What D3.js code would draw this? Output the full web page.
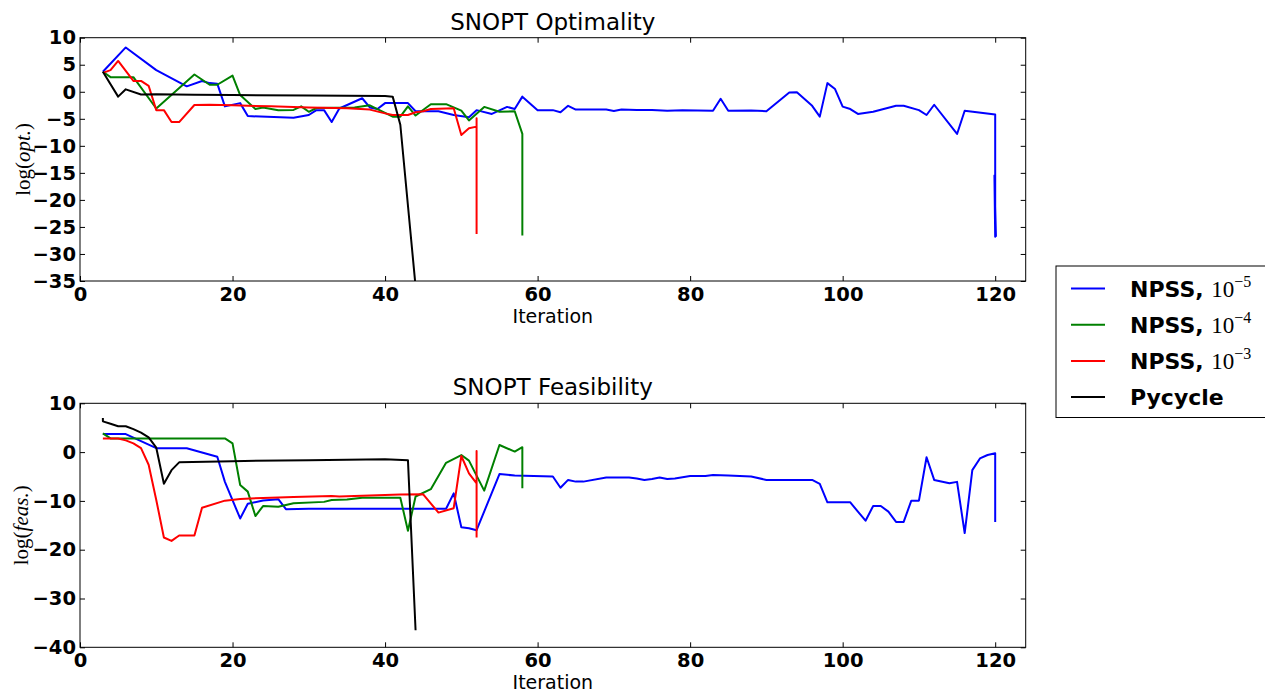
<!DOCTYPE html>
<html>
<head>
<meta charset="utf-8">
<script src="https://cdn.jsdelivr.net/npm/d3@7"></script>
<style>
  body { margin: 0; background: #fff; }
  svg { display: block; }
  .tick text { font-family: "DejaVu Sans", sans-serif; font-weight: bold; font-size: 19.5px; fill: #000; }
  .tick line { stroke: #000; }
</style>
</head>
<body>
<svg id="chart"></svg>
<script>
// iteration / log value pairs
const optNpss5 = [[3,3.7],[6,8.2],[10,4.0],[14,1.0],[16,2.0],[17,1.6],[18,1.5],[19,-2.7],[21,-2.1],[22,-4.5],[28,-4.8],[30,-4.3],[31,-3.4],[32,-3.4],[33,-5.6],[34,-3.1],[37,-1.2],[38,-2.9],[39,-3.2],[40,-2.1],[43,-2.1],[44,-3.6],[47,-3.6],[49,-4.3],[51,-4.7],[52,-3.4],[54,-4.1],[56,-2.8],[57,-3.2],[58,-0.9],[60,-3.4],[62,-3.4],[63,-3.8],[64,-2.6],[65,-3.3],[67,-3.3],[69,-3.3],[70,-3.55],[71,-3.3],[73,-3.35],[75,-3.35],[77,-3.5],[79,-3.4],[81,-3.45],[83,-3.5],[84,-1.3],[85,-3.5],[88,-3.45],[90,-3.6],[93,-0.15],[94,-0.1],[96,-2.6],[97,-4.6],[98,1.6],[99,0.5],[100,-2.75],[101,-3.2],[102,-4.1],[104,-3.7],[107,-2.6],[108,-2.6],[110,-3.4],[111,-4.3],[112,-2.4],[115,-7.8],[116,-3.5],[120,-4.2],[120,-26.8],[119.9,-15.5],[120.1,-26.8]];
const optNpss4 = [[3,3.7],[4,2.7],[7,2.7],[10,-3.1],[15,3.2],[17,1.3],[18,1.3],[20,3.0],[21,-0.6],[23,-3.2],[24,-2.9],[26,-3.4],[28,-3.35],[29,-2.7],[30,-3.7],[31,-3.0],[36,-2.9],[38,-2.5],[39,-3.2],[40,-3.9],[41,-4.6],[42,-4.6],[43,-2.7],[44,-4.4],[46,-2.3],[48,-2.3],[50,-3.5],[51,-5.3],[53,-2.8],[55,-3.7],[57,-3.6],[58,-7.8],[58,-26.6]];
const optNpss3 = [[3,3.5],[4,4.0],[5,5.7],[7,2.0],[8,2.0],[9,1.1],[10,-3.4],[11,-3.4],[12,-5.6],[13,-5.6],[15,-2.45],[17,-2.4],[20,-2.5],[25,-2.7],[30,-2.9],[35,-3.05],[38,-3.3],[40,-4.0],[41,-4.3],[43,-4.3],[44,-3.8],[45,-3.6],[46,-3.2],[49,-3.05],[50,-8.0],[51,-6.75],[52,-6.45],[52,-4.9],[52,-26.3]];
const optPycycle = [[3,3.7],[5,-0.9],[6,0.45],[8,-0.5],[10,-0.45],[15,-0.55],[20,-0.6],[30,-0.7],[40,-0.8],[41,-0.9],[42,-6.1],[44,-36]];

const feasNpss5 = [[3,3.7],[6,3.7],[10,0.8],[14,0.8],[18,-0.95],[19,-6.1],[21,-13.6],[22,-10.6],[24,-9.9],[26,-9.65],[27,-11.7],[30,-11.6],[48,-11.6],[49,-8.45],[50,-15.4],[51,-15.6],[52,-16.0],[55,-4.5],[57,-4.8],[62,-5.0],[63,-7.3],[64,-5.7],[65,-6.05],[66,-6.05],[69,-5.2],[72,-5.2],[73,-5.4],[74,-5.7],[75,-5.5],[76,-5.2],[77,-5.5],[78,-5.4],[80,-4.9],[82,-4.9],[83,-4.7],[85,-4.8],[88,-5.0],[90,-5.7],[96,-5.7],[97,-6.5],[98,-10.3],[101,-10.3],[102,-12.2],[103,-14.05],[104,-11.05],[105,-11.05],[106,-12.2],[107,-14.3],[108,-14.3],[109,-9.95],[110,-9.95],[111,-1.05],[112,-5.7],[114,-6.4],[115,-6.1],[116,-16.6],[117,-3.7],[118,-1.3],[119,-0.6],[120,-0.25],[120,-14.3]];
const feasNpss4 = [[3,3.85],[4,2.8],[19,2.8],[20,1.8],[21,-6.75],[22,-8.1],[23,-13.1],[24,-11.05],[26,-11.2],[28,-10.5],[32,-10.2],[33,-9.8],[35,-9.7],[37,-9.35],[42,-9.35],[43,-16.1],[44,-9.1],[46,-7.6],[48,-2.2],[50,-0.6],[51,-1.75],[53,-7.9],[55,1.45],[57,0.1],[58,1.0],[58,-7.4]];
const feasNpss3 = [[3,2.8],[5,2.8],[6,2.4],[7,1.8],[8,0.8],[9,-2.6],[10,-9.8],[11,-17.5],[12,-18.2],[13,-17.1],[15,-17.1],[16,-11.4],[19,-9.95],[21,-9.6],[24,-9.4],[28,-9.2],[33,-9.0],[34,-9.1],[38,-8.9],[42,-8.7],[45,-8.65],[47,-12.4],[49,-11.5],[50,-0.8],[51,-4.35],[52,-6.4],[52,0.25],[52,-17.5]];
const feasPycycle = [[3,7.0],[3,6.3],[4,5.8],[5,5.3],[6,5.3],[7,4.7],[8,4.0],[9,3.0],[10,0.9],[11,-6.5],[12,-3.7],[13,-2.1],[20,-1.85],[30,-1.65],[40,-1.45],[43,-1.65],[44,-36.5]];

const seriesNames = ['NPSS, ', 'NPSS, ', 'NPSS, ', 'Pycycle'];
const seriesExps = ['−5', '−4', '−3', null];
const seriesColors = ['#0000ff', '#008000', '#ff0000', '#000000'];

const xTicks = [0, 20, 40, 60, 80, 100, 120];
const optTicks = [-35, -30, -25, -20, -15, -10, -5, 0, 5, 10];
const feasTicks = [-40, -30, -20, -10, 0, 10];

const width = 1265;
const height = 692;

const svg = d3.select('#chart')
  .attr('width', width)
  .attr('height', height);

const x = d3.scaleLinear().domain([0, 124]).range([80, 1025.7]);

function panel (opts) {
  const y = d3.scaleLinear().domain(opts.domain).range([opts.bottom, opts.top]);
  const g = svg.append('g');

  g.append('clipPath')
    .attr('id', opts.id)
    .append('rect')
    .attr('x', x.range()[0])
    .attr('y', opts.top)
    .attr('width', x.range()[1] - x.range()[0])
    .attr('height', opts.bottom - opts.top);

  const line = d3.line()
    .x(d => x(d[0]))
    .y(d => y(d[1]));

  g.append('g')
    .attr('clip-path', 'url(#' + opts.id + ')')
    .selectAll('path')
    .data(opts.series)
    .enter()
    .append('path')
    .attr('fill', 'none')
    .attr('stroke', (d, i) => seriesColors[i])
    .attr('stroke-width', 2)
    .attr('stroke-linejoin', 'round')
    .attr('d', line);

  // ticks pointing inward on all four sides
  g.append('g')
    .attr('transform', 'translate(0,' + opts.bottom + ')')
    .call(d3.axisBottom(x).tickValues(xTicks).tickSize(-5).tickPadding(6).tickFormat(d3.format('d')))
    .call(a => a.select('.domain').remove());
  g.append('g')
    .attr('transform', 'translate(0,' + opts.top + ')')
    .call(d3.axisTop(x).tickValues(xTicks).tickSize(-5).tickFormat(''))
    .call(a => a.select('.domain').remove());
  g.append('g')
    .attr('transform', 'translate(' + x.range()[0] + ',0)')
    .call(d3.axisLeft(y).tickValues(opts.ticks).tickSize(-5).tickPadding(4).tickFormat(d3.format('d')))
    .call(a => a.select('.domain').remove());
  g.append('g')
    .attr('transform', 'translate(' + x.range()[1] + ',0)')
    .call(d3.axisRight(y).tickValues(opts.ticks).tickSize(-5).tickFormat(''))
    .call(a => a.select('.domain').remove());

  g.append('rect')
    .attr('x', x.range()[0])
    .attr('y', opts.top)
    .attr('width', x.range()[1] - x.range()[0])
    .attr('height', opts.bottom - opts.top)
    .attr('fill', 'none')
    .attr('stroke', '#000')
    .attr('stroke-width', 1);

  g.append('text')
    .attr('x', (x.range()[0] + x.range()[1]) / 2)
    .attr('y', opts.top - 8)
    .attr('text-anchor', 'middle')
    .style('font-family', 'DejaVu Sans, sans-serif')
    .style('font-size', '23px')
    .text(opts.title);

  g.append('text')
    .attr('x', (x.range()[0] + x.range()[1]) / 2)
    .attr('y', opts.bottom + 42)
    .attr('text-anchor', 'middle')
    .style('font-family', 'DejaVu Sans, sans-serif')
    .style('font-size', '19px')
    .text('Iteration');

  const yl = g.append('text')
    .attr('transform', 'translate(' + opts.labelX + ',' + ((opts.top + opts.bottom) / 2) + ') rotate(-90)')
    .attr('text-anchor', 'middle')
    .style('font-family', 'Liberation Serif, serif')
    .style('font-size', '21px');
  yl.append('tspan').text('log(');
  yl.append('tspan').style('font-style', 'italic').text(opts.label);
  yl.append('tspan').text(')');
}

panel({
  id: 'clip-opt',
  top: 37.7,
  bottom: 281,
  domain: [-35, 10],
  ticks: optTicks,
  series: [optNpss5, optNpss4, optNpss3, optPycycle],
  title: 'SNOPT Optimality',
  label: 'opt.',
  labelX: 30
});

panel({
  id: 'clip-feas',
  top: 403.3,
  bottom: 647.3,
  domain: [-40, 10],
  ticks: feasTicks,
  series: [feasNpss5, feasNpss4, feasNpss3, feasPycycle],
  title: 'SNOPT Feasibility',
  label: 'feas.',
  labelX: 28
});

// legend
const legend = svg.append('g');
legend.append('rect')
  .attr('x', 1056)
  .attr('y', 266)
  .attr('width', 230)
  .attr('height', 151.5)
  .attr('fill', '#fff')
  .attr('stroke', '#000')
  .attr('stroke-width', 1);

const item = legend.selectAll('g.item')
  .data(seriesNames)
  .enter()
  .append('g')
  .attr('class', 'item')
  .attr('transform', (d, i) => 'translate(0,' + (288.5 + i * 36.2) + ')');

item.append('line')
  .attr('x1', 1071)
  .attr('x2', 1105)
  .attr('stroke', (d, i) => seriesColors[i])
  .attr('stroke-width', 2);

const label = item.append('text')
  .attr('x', 1130)
  .attr('y', 8)
  .style('font-size', '22px');
label.append('tspan')
  .style('font-family', 'DejaVu Sans, sans-serif')
  .style('font-weight', 'bold')
  .attr('xml:space', 'preserve')
  .text(d => d);
label.filter((d, i) => seriesExps[i] !== null)
  .append('tspan')
  .style('font-family', 'Liberation Serif, serif')
  .style('font-size', '23px')
  .text('10');
label.filter((d, i) => seriesExps[i] !== null)
  .append('tspan')
  .style('font-family', 'Liberation Serif, serif')
  .style('font-size', '16px')
  .attr('dy', -10)
  .text((d, i) => seriesExps[i]);
</script>
</body>
</html>
